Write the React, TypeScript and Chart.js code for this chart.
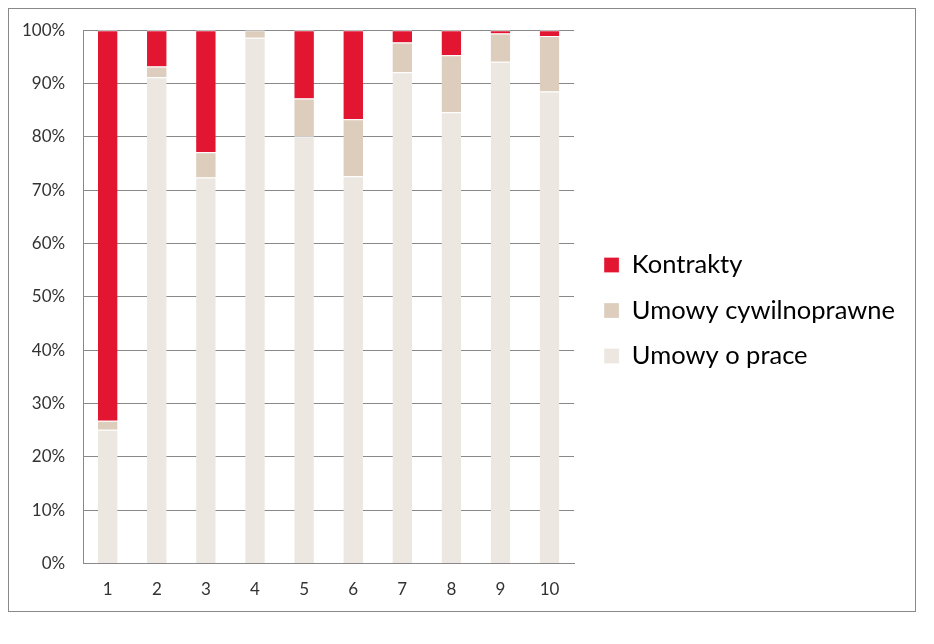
import React, { useEffect, useRef } from 'react';
import Chart from 'chart.js/auto';

const categories = ['1', '2', '3', '4', '5', '6', '7', '8', '9', '10'];
const umowyOPrace = [25.1, 91.2, 72.4, 98.6, 80.1, 72.6, 92.1, 84.6, 94.1, 88.5];
const umowyCywilnoprawne = [1.7, 2.0, 4.7, 1.4, 7.1, 10.7, 5.6, 10.7, 5.3, 10.4];
const kontrakty = [73.2, 6.8, 22.9, 0, 12.8, 16.7, 2.3, 4.7, 0.6, 1.1];
const yTicks = [0, 10, 20, 30, 40, 50, 60, 70, 80, 90, 100];

const FONT = 'Lato, "Open Sans", sans-serif';

function StackedChart() {
  const chartRef = useRef<HTMLCanvasElement>(null);

  useEffect(() => {
    if (!chartRef.current) return;

    const seg = { top: 1, bottom: 0, left: 0, right: 0 };

    const myChart = new Chart(chartRef.current, {
      type: 'bar',
      data: {
        labels: categories,
        datasets: [
          {
            label: 'Umowy o prace',
            data: umowyOPrace,
            backgroundColor: '#ECE7E1',
            borderColor: '#ffffff',
            borderWidth: seg,
            borderSkipped: false,
          },
          {
            label: 'Umowy cywilnoprawne',
            data: umowyCywilnoprawne,
            backgroundColor: '#DDCDBD',
            borderColor: '#ffffff',
            borderWidth: seg,
            borderSkipped: false,
          },
          {
            label: 'Kontrakty',
            data: kontrakty,
            backgroundColor: '#E31631',
            borderColor: '#ffffff',
            borderWidth: seg,
            borderSkipped: false,
          },
        ],
      },
      options: {
        animation: false,
        responsive: true,
        maintainAspectRatio: false,
        layout: { padding: { top: 3, right: 10, bottom: -4, left: -5 } },
        datasets: {
          bar: { categoryPercentage: 0.8, barPercentage: 0.5 },
        },
        plugins: {
          tooltip: { enabled: false },
          legend: {
            position: 'right',
            reverse: true,
            maxWidth: 340,
            labels: {
              font: { family: FONT, size: 25.5 },
              color: '#000000',
              boxWidth: 15,
              boxHeight: 15,
              padding: 20,
            },
          },
        },
        scales: {
          x: {
            stacked: true,
            grid: { display: false, drawTicks: false },
            border: { color: '#898989', width: 1 },
            ticks: {
              font: { family: FONT, size: 17 },
              color: '#333333',
              padding: 16,
            },
          },
          y: {
            stacked: true,
            min: 0,
            max: 100,
            afterBuildTicks: (axis) => {
              axis.ticks = yTicks.map((v) => ({ value: v }));
            },
            grid: { color: '#898989', drawTicks: false },
            border: { display: true, color: '#898989', width: 1 },
            ticks: {
              font: { family: FONT, size: 17 },
              color: '#333333',
              padding: 18,
              callback: (v) => `${v}%`,
            },
          },
          // empty spacer between plot and legend
          gap: {
            type: 'linear',
            position: 'right',
            display: true,
            grid: { display: false, drawTicks: false },
            border: { display: false },
            ticks: { display: false },
            afterFit: (axis) => {
              axis.width = 10;
            },
          },
        },
      },
    });

    return () => {
      myChart.destroy();
    };
  }, []);

  return <canvas ref={chartRef}></canvas>;
}

export default function App() {
  return (
    <div
      style={{
        width: 908,
        height: 604,
        border: '1px solid #898989',
        boxSizing: 'border-box',
        position: 'relative',
        background: '#ffffff',
      }}
    >
      <div style={{ position: 'absolute', left: 0, top: -7, width: 906, height: 610 }}>
        <StackedChart />
      </div>
    </div>
  );
}
